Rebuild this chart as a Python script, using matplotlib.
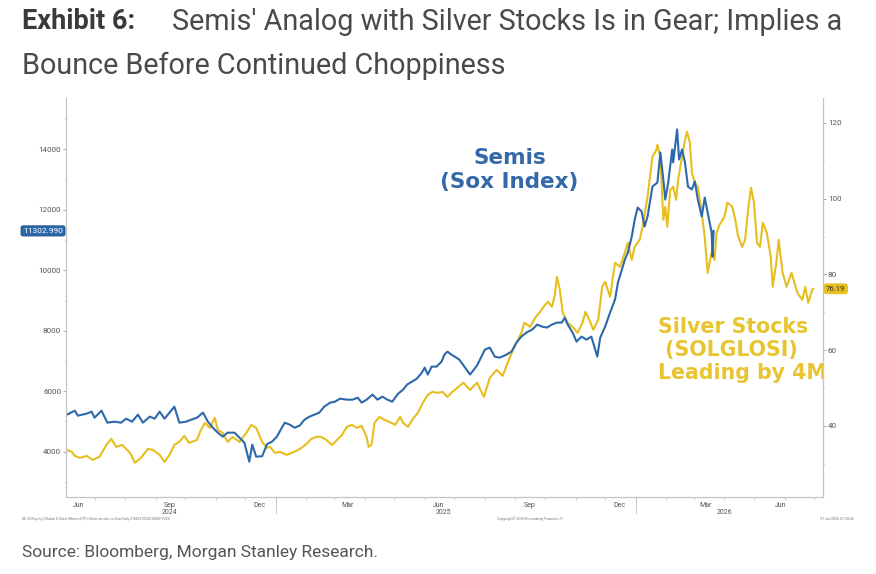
import matplotlib
matplotlib.use("Agg")
import matplotlib.pyplot as plt
import matplotlib.dates as mdates
import matplotlib.transforms as mtransforms
import pandas as pd

# Semis (SOX index), left axis
semis_dates = [
    "2024-06-03", "2024-06-11", "2024-06-14", "2024-06-23", "2024-06-28", "2024-07-01", "2024-07-08",
    "2024-07-14", "2024-07-21", "2024-07-28", "2024-08-02", "2024-08-08", "2024-08-14", "2024-08-19",
    "2024-08-26", "2024-08-31", "2024-09-05", "2024-09-10", "2024-09-20", "2024-09-25", "2024-10-02",
    "2024-10-07", "2024-10-13", "2024-10-19", "2024-10-24", "2024-10-29", "2024-11-03", "2024-11-08",
    "2024-11-13", "2024-11-20", "2024-11-25", "2024-11-30", "2024-12-05", "2024-12-08", "2024-12-12",
    "2024-12-18", "2024-12-23", "2024-12-28", "2025-01-02", "2025-01-07", "2025-01-10", "2025-01-15",
    "2025-01-20", "2025-01-25", "2025-01-30", "2025-02-04", "2025-02-09", "2025-02-14", "2025-02-19",
    "2025-02-25", "2025-03-02", "2025-03-07", "2025-03-14", "2025-03-20", "2025-03-25", "2025-03-29",
    "2025-04-03", "2025-04-09", "2025-04-14", "2025-04-19", "2025-04-24", "2025-04-29", "2025-05-05",
    "2025-05-10", "2025-05-14", "2025-05-19", "2025-05-24", "2025-05-29", "2025-06-01", "2025-06-04",
    "2025-06-08", "2025-06-13", "2025-06-18", "2025-06-21", "2025-06-24", "2025-06-28", "2025-07-03",
    "2025-07-06", "2025-07-17", "2025-07-24", "2025-08-01", "2025-08-06", "2025-08-11", "2025-08-16",
    "2025-08-23", "2025-08-28", "2025-09-02", "2025-09-07", "2025-09-12", "2025-09-18", "2025-09-23",
    "2025-09-28", "2025-10-03", "2025-10-08", "2025-10-13", "2025-10-18", "2025-10-21", "2025-10-24",
    "2025-10-29", "2025-11-02", "2025-11-07", "2025-11-12", "2025-11-17", "2025-11-23", "2025-11-26",
    "2025-12-01", "2025-12-06", "2025-12-11", "2025-12-14", "2025-12-18", "2025-12-21", "2025-12-24",
    "2025-12-28", "2025-12-31", "2026-01-03", "2026-01-07", "2026-01-10", "2026-01-13", "2026-01-18",
    "2026-01-23", "2026-01-26", "2026-01-29", "2026-01-31", "2026-02-03", "2026-02-07", "2026-02-08",
    "2026-02-12", "2026-02-14", "2026-02-17", "2026-02-20", "2026-02-23", "2026-02-27", "2026-03-02",
    "2026-03-05", "2026-03-09", "2026-03-12", "2026-03-15", "2026-03-19", "2026-03-20", "2026-03-21",
]
semis_values = [
    5225, 5357, 5192, 5258, 5324, 5125, 5357,
    4960, 4993, 4960, 5092, 4993, 5225, 4960,
    5159, 5092, 5324, 5092, 5490, 4960, 4993,
    5059, 5125, 5291, 4993, 4794, 4629, 4497,
    4629, 4629, 4463, 4298, 3669, 4232, 3834,
    3850, 4250, 4331, 4497, 4794, 4960, 4894,
    4794, 4861, 5059, 5159, 5225, 5291, 5490,
    5622, 5655, 5754, 5721, 5721, 5787, 5622,
    5721, 5887, 5721, 5821, 5721, 5655, 5920,
    6052, 6218, 6317, 6416, 6615, 6780, 6549,
    6814, 6814, 6979, 7211, 7310, 7211, 7111,
    7045, 6550, 6850, 7376, 7442, 7145, 7111,
    7211, 7310, 7608, 7807, 7939, 8038, 8204,
    8138, 8104, 8204, 8270, 8270, 8435, 8204,
    7939, 7641, 7807, 7707, 7807, 7145, 7773,
    8138, 8601, 9031, 9594, 10024, 10355, 10587,
    11117, 11679, 12076, 11944, 11448, 11778, 12771,
    12904, 13897, 13003, 12341, 12904, 13996, 13566,
    14658, 13665, 13996, 13566, 12771, 12672, 12937,
    12341, 11778, 12407, 11911, 11249, 10455, 11302.99,
]

# Silver stocks (SOLGLOSI), shifted 4 months ahead, right axis
silver_dates = [
    "2024-06-03", "2024-06-08", "2024-06-11", "2024-06-16", "2024-06-23", "2024-06-29", "2024-07-06",
    "2024-07-13", "2024-07-18", "2024-07-23", "2024-07-29", "2024-08-06", "2024-08-11", "2024-08-18",
    "2024-08-24", "2024-08-29", "2024-09-05", "2024-09-10", "2024-09-15", "2024-09-20", "2024-09-25",
    "2024-09-30", "2024-10-05", "2024-10-13", "2024-10-16", "2024-10-21", "2024-10-26", "2024-10-31",
    "2024-11-03", "2024-11-08", "2024-11-13", "2024-11-18", "2024-11-25", "2024-12-02", "2024-12-07",
    "2024-12-12", "2024-12-18", "2024-12-23", "2024-12-26", "2024-12-31", "2025-01-05", "2025-01-12",
    "2025-01-17", "2025-01-22", "2025-01-27", "2025-02-01", "2025-02-06", "2025-02-11", "2025-02-16",
    "2025-02-21", "2025-02-27", "2025-03-04", "2025-03-09", "2025-03-14", "2025-03-19", "2025-03-24",
    "2025-03-29", "2025-04-03", "2025-04-05", "2025-04-08", "2025-04-11", "2025-04-16", "2025-04-21",
    "2025-04-26", "2025-05-02", "2025-05-07", "2025-05-10", "2025-05-15", "2025-05-20", "2025-05-25",
    "2025-05-30", "2025-06-04", "2025-06-09", "2025-06-14", "2025-06-19", "2025-06-24", "2025-06-29",
    "2025-07-04", "2025-07-10", "2025-07-17", "2025-07-24", "2025-07-31", "2025-08-06", "2025-08-13",
    "2025-08-19", "2025-08-26", "2025-08-31", "2025-09-07", "2025-09-10", "2025-09-16", "2025-09-21",
    "2025-09-26", "2025-10-01", "2025-10-04", "2025-10-08", "2025-10-11", "2025-10-13", "2025-10-16",
    "2025-10-19", "2025-10-24", "2025-10-29", "2025-11-03", "2025-11-08", "2025-11-11", "2025-11-15",
    "2025-11-19", "2025-11-24", "2025-11-28", "2025-12-01", "2025-12-06", "2025-12-11", "2025-12-16",
    "2025-12-21", "2025-12-24", "2025-12-28", "2025-12-31", "2026-01-05", "2026-01-08", "2026-01-13",
    "2026-01-18", "2026-01-22", "2026-01-23", "2026-01-26", "2026-01-29", "2026-01-31", "2026-02-02",
    "2026-02-05", "2026-02-08", "2026-02-11", "2026-02-13", "2026-02-17", "2026-02-20", "2026-02-22",
    "2026-02-25", "2026-02-27", "2026-03-02", "2026-03-05", "2026-03-09", "2026-03-12", "2026-03-15",
    "2026-03-19", "2026-03-22", "2026-03-24", "2026-03-27", "2026-04-01", "2026-04-04", "2026-04-09",
    "2026-04-12", "2026-04-15", "2026-04-19", "2026-04-22", "2026-04-25", "2026-04-28", "2026-05-01",
    "2026-05-04", "2026-05-07", "2026-05-10", "2026-05-14", "2026-05-18", "2026-05-20", "2026-05-24",
    "2026-05-26", "2026-05-30", "2026-06-03", "2026-06-08", "2026-06-14", "2026-06-19", "2026-06-22",
    "2026-06-25", "2026-06-29", "2026-06-30",
]
silver_values = [
    33.66, 33.13, 32.07, 31.55, 32.07, 31.02, 31.81,
    34.98, 36.57, 34.45, 34.98, 32.87, 30.22, 31.81,
    33.92, 33.66, 32.34, 30.49, 32.34, 34.98, 35.77,
    37.36, 35.51, 36.30, 38.41, 40.79, 39.47, 42.11,
    38.94, 38.15, 35.77, 37.09, 35.77, 38.15, 40.26,
    39.47, 35.77, 34.19, 34.45, 32.87, 33.13, 32.34,
    32.87, 33.40, 34.19, 35.24, 36.57, 37.09, 37.09,
    36.30, 34.98, 36.30, 37.62, 39.74, 40.26, 39.47,
    40.00, 37.09, 34.45, 34.98, 40.79, 42.38, 41.59,
    41.06, 40.26, 42.38, 40.79, 39.74, 41.85, 43.43,
    46.08, 48.19, 48.98, 48.72, 48.98, 47.66, 48.98,
    50.04, 51.40, 49.50, 51.40, 47.66, 52.70, 54.80,
    53.20, 57.90, 60.87, 64.57, 67.21, 66.16, 68.53,
    70.12, 71.97, 72.76, 71.44, 74.61, 79.37, 75.93,
    69.85, 67.21, 66.16, 64.57, 67.21, 70.12, 68.01,
    65.36, 68.01, 76.72, 78.04, 74.08, 83.07, 82.01,
    85.71, 88.35, 83.86, 87.29, 89.14, 92.58, 100.50,
    111.07, 112.92, 114.24, 111.07, 94.43, 97.86, 92.58,
    102.35, 103.14, 99.71, 104.99, 111.07, 115.56, 117.67,
    114.77, 106.84, 104.20, 103.14, 96.27, 89.93, 80.42,
    85.71, 83.86, 90.99, 93.10, 95.22, 98.92, 97.86,
    94.43, 89.93, 87.29, 89.14, 97.07, 102.88, 98.92,
    88.35, 87.29, 93.63, 90.99, 84.65, 76.72, 83.86,
    89.14, 80.42, 76.72, 80.42, 75.14, 73.29, 76.72,
    72.50, 75.93, 76.19,
]

month_labels = ["Jun", "Sep", "Dec", "Mar", "Jun", "Sep", "Dec", "Mar", "Jun"]
month_label_dates = ["2024-06-15", "2024-09-15", "2024-12-15", "2025-03-15", "2025-06-15",
                     "2025-09-15", "2025-12-15", "2026-03-13", "2026-05-28"]
year_labels = ["2024", "2025", "2026"]
year_label_dates = ["2024-09-15", "2025-06-20", "2026-04-01"]
year_breaks = ["2025-01-01", "2026-01-01"]

BLUE = "#2d69aa"
GOLD = "#e6be1e"
GREY = "#555555"

plt.rcParams["font.family"] = ["Roboto", "DejaVu Sans"]

fig = plt.figure(figsize=(8.76, 5.74), dpi=100)
ax = fig.add_axes([0.0753, 0.1341, 0.8642, 0.6952])
ax2 = ax.twinx()

x_semis = pd.to_datetime(semis_dates)
x_silver = pd.to_datetime(silver_dates)

ax2.plot(x_silver, silver_values, color=GOLD, lw=1.5)
ax.plot(x_semis, semis_values, color=BLUE, lw=1.5)
ax.set_zorder(ax2.get_zorder() + 1)
ax.patch.set_visible(False)

ax.set_xlim(pd.Timestamp("2024-06-02"), pd.Timestamp("2026-07-10"))
ax.set_ylim(2500, 15700)
ax2.set_ylim(21.2, 126.6)

ax.set_yticks(range(4000, 14001, 2000))
ax.set_yticks(range(3000, 15001, 1000), minor=True)
ax2.set_yticks(range(40, 121, 20))
ax2.set_yticks(range(30, 121, 10), minor=True)

for a in (ax, ax2):
    for s in a.spines.values():
        s.set_color("#c4c4c4")
        s.set_linewidth(0.8)
    a.spines["top"].set_visible(False)
    a.tick_params(axis="y", which="major", labelsize=5.8, labelcolor=GREY, color="#999999",
                  length=2.5, width=0.6, pad=1)
    a.tick_params(axis="y", which="minor", color="#cccccc", length=1.5, width=0.5)

ax.xaxis.set_major_locator(mdates.MonthLocator())
ax.xaxis.set_major_formatter(plt.NullFormatter())
ax.tick_params(axis="x", which="major", color="#bbbbbb", length=2, width=0.5)

trans = mtransforms.blended_transform_factory(ax.transData, ax.transAxes)
for lab, d in zip(month_labels, month_label_dates):
    ax.text(pd.Timestamp(d), -0.012, lab, transform=trans, ha="center", va="top",
            fontsize=5, color=GREY)
for lab, d in zip(year_labels, year_label_dates):
    ax.text(pd.Timestamp(d), -0.03, lab, transform=trans, ha="center", va="top",
            fontsize=5, color=GREY)
for d in year_breaks:
    ax.plot([pd.Timestamp(d)] * 2, [0, -0.04], transform=trans, color="#bbbbbb", lw=0.6,
            clip_on=False)

# last value tags
ytrans = mtransforms.blended_transform_factory(ax.transAxes, ax.transData)
ax.text(-0.004, semis_values[-1], f"{semis_values[-1]:.3f}", transform=ytrans, ha="right",
        va="center", fontsize=6, color="white",
        bbox=dict(boxstyle="round,pad=0.25", fc=BLUE, ec="#1d4f85", lw=0.6))
ytrans2 = mtransforms.blended_transform_factory(ax2.transAxes, ax2.transData)
ax2.text(1.004, silver_values[-1], f"{silver_values[-1]:.2f}", transform=ytrans2, ha="left",
         va="center", fontsize=5.6, color="#333333",
         bbox=dict(boxstyle="round,pad=0.25", fc=GOLD, ec=GOLD, lw=0.6))

# series call-outs
ax.text(0.586, 0.82, "Semis\n(Sox Index)", transform=ax.transAxes, ha="center", va="center",
        fontsize=15.5, fontweight="bold", color="#3468a8", family="DejaVu Sans", linespacing=1.25)
ax.text(0.782, 0.368, "Silver Stocks\n (SOLGLOSI)\nLeading by 4M", transform=ax.transAxes,
        ha="left", va="center", fontsize=14.8, fontweight="bold", color="#e8c431",
        family="DejaVu Sans", linespacing=1.2, clip_on=True)

# titles and footers
fig.text(0.025, 0.962, "Exhibit 6:", fontsize=19.5, fontweight="bold", color="#3a3a3a",
         va="center")
fig.text(0.196, 0.962, "Semis' Analog with Silver Stocks Is in Gear; Implies a", fontsize=20.7,
         color="#4a4a4a", va="center")
fig.text(0.025, 0.885, "Bounce Before Continued Choppiness", fontsize=20.7, color="#4a4a4a",
         va="center")

fig.text(0.025, 0.096, "SE US Equity (Global X Silver Miners ETF) Silver stocks vs Sox Daily 31MAY2024-30SEP2026",
         fontsize=2.6, color="#777777", va="center")
fig.text(0.605, 0.096, "Copyright\u00a9 2026 Bloomberg Finance L.P.", fontsize=2.6,
         color="#777777", va="center", ha="center")
fig.text(0.975, 0.096, "31-Jul-2026 07:28:26", fontsize=2.6, color="#777777", va="center",
         ha="right")
fig.text(0.025, 0.038, "Source: Bloomberg, Morgan Stanley Research.", fontsize=12.5,
         color=GREY, va="center")

fig.savefig("out.png", dpi=100)
